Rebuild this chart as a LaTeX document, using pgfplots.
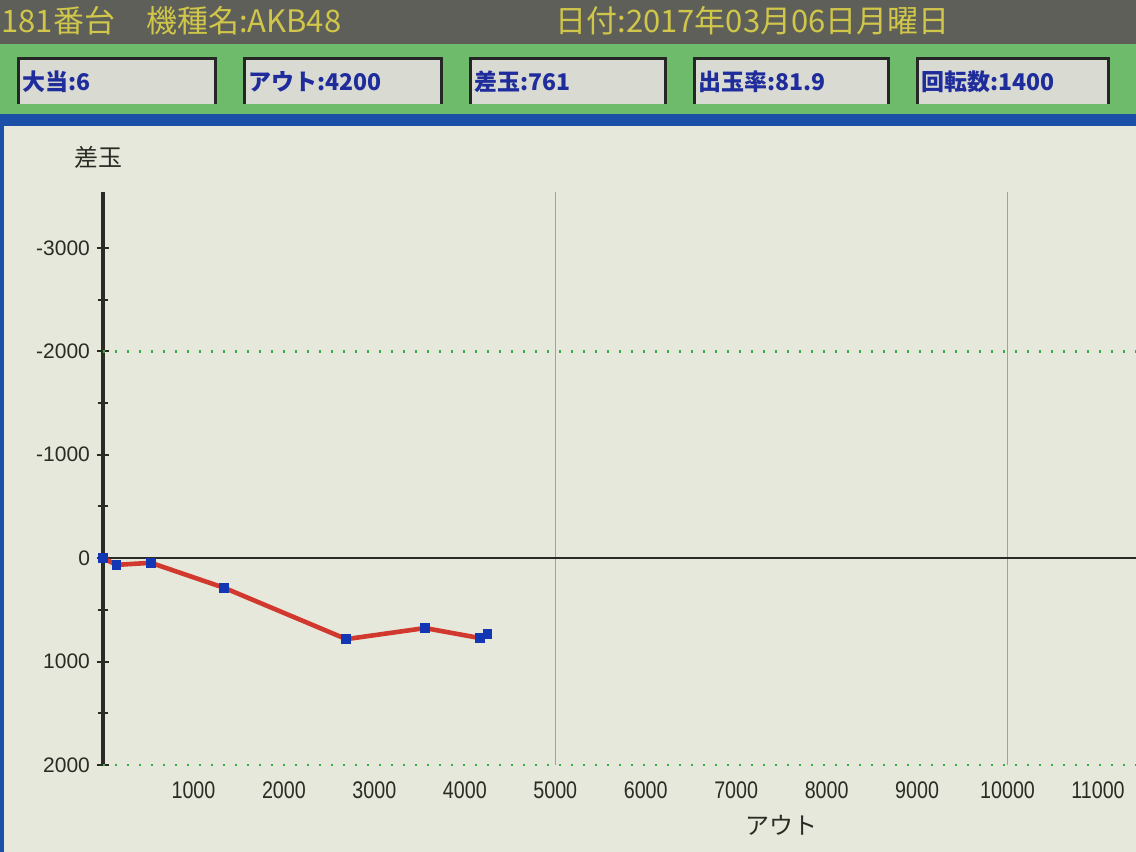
\documentclass[border=0pt]{standalone}
\usepackage{pgfplots}
\pgfplotsset{compat=1.18}
\usepackage{fontspec}
\setmainfont{Liberation Sans}
\newfontfamily\cjk{Noto Sans CJK JP}
\newfontfamily\narrow{Liberation Sans}[FakeStretch=0.82]

\definecolor{hdrbg}{HTML}{5E5F58}
\definecolor{hdrtxt}{HTML}{CFC64A}
\definecolor{band}{HTML}{6DBB6B}
\definecolor{boxbg}{HTML}{D9DAD2}
\definecolor{boxtxt}{HTML}{1F2C9C}
\definecolor{bluebar}{HTML}{1C50A8}
\definecolor{plotbg}{HTML}{E6E8DB}
\definecolor{axisc}{HTML}{2B2A25}
\definecolor{linec}{HTML}{D2392E}
\definecolor{markc}{HTML}{1236B4}
\definecolor{gridg}{HTML}{35B048}
\definecolor{gridv}{HTML}{9BA3A6}

\begin{document}
\begin{tikzpicture}
\useasboundingbox (0,0) rectangle (568pt,-426pt);
\clip (0,0) rectangle (568pt,-426pt);
% screen frame, drawn in pixel units of the reference
\begin{scope}[x=0.5pt,y=-0.5pt]
  \fill[plotbg] (0,0) rectangle (1136,852);
  \fill[hdrbg] (0,0) rectangle (1136,44);
  \fill[band] (0,44) rectangle (1136,114);
  \fill[bluebar] (0,114) rectangle (1136,126);
  \fill[bluebar] (0,126) rectangle (4,852);
  \node[anchor=west, text=hdrtxt, font=\cjk\fontsize{15.5}{17}\selectfont, inner sep=0pt]
    at (1,21) {181番台　機種名:AKB48};
  \node[anchor=west, text=hdrtxt, font=\cjk\fontsize{15.5}{17}\selectfont, inner sep=0pt]
    at (555,21) {日付:2017年03月06日月曜日};
  \foreach \xa/\xb/\t in {18/215/大当:6, 244/441/アウト:4200, 470/665/差玉:761,
                          694/888/出玉率:81.9, 917/1108/回転数:1400} {
    \fill[boxbg] (\xa,58) rectangle (\xb,104);
    \draw[black!85, line width=1.5pt] (\xa,104) -- (\xa,58) -- (\xb,58) -- (\xb,104);
    \node[anchor=west, text=boxtxt, font=\cjk\bfseries\fontsize{11.5}{13}\selectfont, inner sep=0pt]
      at (\xa+4,82) {\t};
  }
\end{scope}

\begin{axis}[
  at={(51.5pt,-382.5pt)}, anchor=south west,
  scale only axis, width=516.5pt, height=286.5pt,
  xmin=0, xmax=11420, ymin=-3540, ymax=2000, y dir=reverse,
  clip=false,
  axis x line=bottom, axis y line=left,
  axis line style={-},
  x axis line style={draw=none},
  y axis line style={axisc, line width=1.6pt},
  xtick={1000,2000,...,11000},
  xtick style={draw=none},
  ytick={-3000,-2000,...,2000},
  minor ytick={-2500,-1500,...,1500},
  tick align=center,
  ytick style={axisc, line width=1pt},
  major tick length=6pt, minor tick length=5pt,
  /pgf/number format/assume math mode=true,
  /pgf/number format/1000 sep={},
  scaled ticks=false,
  yticklabel style={font=\fontsize{10.5}{12}\selectfont, text=axisc},
  xticklabel style={font=\narrow\fontsize{12}{13}\selectfont, text=axisc, yshift=-2pt},
]
  \draw[gridv, line width=0.6pt] (axis cs:5000,-3540) -- (axis cs:5000,2000);
  \draw[gridv, line width=0.6pt] (axis cs:10000,-3540) -- (axis cs:10000,2000);
  \draw[gridg, line width=1.3pt, dash pattern=on 1.2pt off 4.8pt] (axis cs:0,-2000) -- (axis cs:11420,-2000);
  \draw[gridg, line width=1.3pt, dash pattern=on 1.2pt off 4.8pt] (axis cs:0,2000) -- (axis cs:11420,2000);
  \draw[axisc, line width=1pt] (axis cs:0,0) -- (axis cs:11420,0);
  \addplot[linec, line width=2.3pt, mark=square*, mark size=2.2pt,
           mark options={fill=markc, draw=markc, line width=0pt}]
    coordinates {(0,0) (150,65) (530,45) (1340,287) (2690,783) (3560,676) (4170,773) (4250,734)};
\end{axis}

\begin{scope}[x=0.5pt,y=-0.5pt]
  \node[text=axisc, font=\cjk\fontsize{12}{14}\selectfont] at (98,157) {差玉};
  \node[text=axisc, font=\cjk\fontsize{12}{14}\selectfont] at (781,825) {アウト};
\end{scope}
\end{tikzpicture}
\end{document}
